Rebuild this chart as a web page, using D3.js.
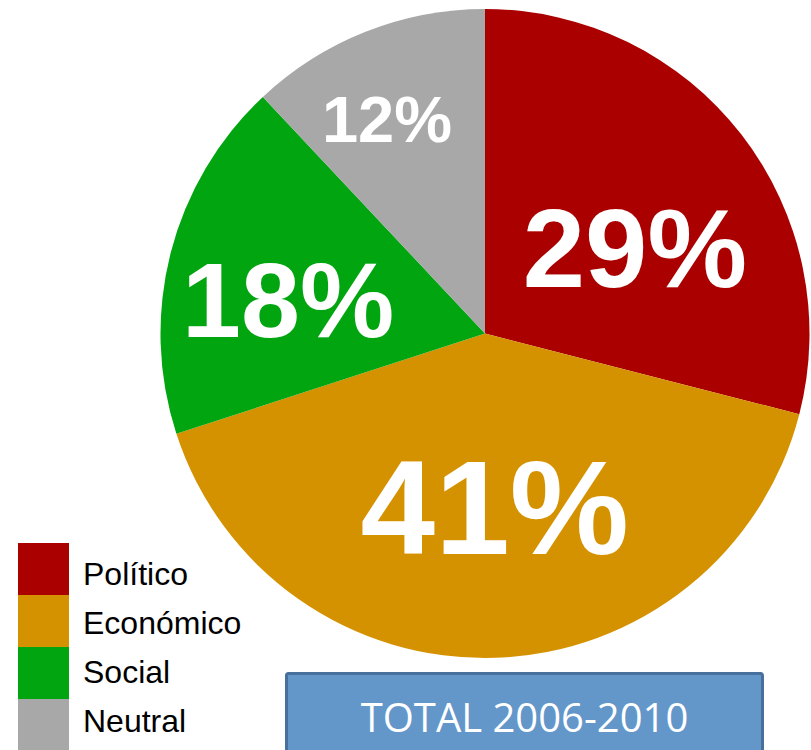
<!DOCTYPE html>
<html>
<head>
<meta charset="utf-8">
<script src="https://cdn.jsdelivr.net/npm/d3@7"></script>
<style>
  body { margin: 0; background: #fff; }
  svg { display: block; }
</style>
</head>
<body>
<svg id="chart" width="811" height="750"></svg>
<script>
// data
const categories = ["Político", "Económico", "Social", "Neutral"];
const values = [29, 41, 18, 12];
const titleText = "TOTAL 2006-2010";

// svg base setup
const svg = d3.select("#chart");
const width = 811;
const height = 750;
const cx = 485, cy = 333.5, radius = 324.5;

const color = d3.scaleOrdinal()
  .domain(categories)
  .range(["#AA0000", "#D59200", "#00A50F", "#A8A8A8"]);

// label look per slice (size + nudge from the centroid)
const labelStyle = {
  "Político":  { size: 112, k: 0.53, dx: 14, dy: 20 },
  "Económico": { size: 134, k: 0.56, dx: 4, dy: -8 },
  "Social":    { size: 106, k: 0.62, dx: -2, dy: 17 },
  "Neutral":   { size: 65,  k: 0.72, dx: -12, dy: 3 }
};

const pieData = categories.map((c, i) => ({ cat: c, value: values[i] }));
const pie = d3.pie().sort(null).value(d => d.value);
const arcs = pie(pieData);

const arc = d3.arc().innerRadius(0).outerRadius(radius);

const g = svg.append("g").attr("transform", `translate(${cx},${cy})`);

g.selectAll("path")
  .data(arcs)
  .join("path")
  .attr("d", arc)
  .attr("fill", d => color(d.data.cat));

// percentage labels
g.selectAll("text.pct")
  .data(arcs)
  .join("text")
  .attr("class", "pct")
  .each(function (d) {
    const s = labelStyle[d.data.cat];
    const la = d3.arc().innerRadius(radius * s.k).outerRadius(radius * s.k);
    const [x, y] = la.centroid(d);
    d3.select(this)
      .attr("x", x + s.dx)
      .attr("y", y + s.dy)
      .attr("font-size", s.size);
  })
  .attr("text-anchor", "middle")
  .attr("dominant-baseline", "central")
  .attr("font-family", "Liberation Sans, Arial, sans-serif")
  .attr("font-weight", "bold")
  .attr("fill", "#fff")
  .text(d => d.data.value + "%");

// legend
const legend = svg.append("g").attr("transform", "translate(18,543)");
const rowH = 52;
const textStep = 49;
categories.forEach((cat, i) => {
  legend.append("rect")
    .attr("y", i * rowH)
    .attr("width", 51).attr("height", rowH)
    .attr("fill", color(cat));
  legend.append("text")
    .attr("x", 65).attr("y", 42 + i * textStep)
    .attr("font-family", "Liberation Sans, Arial, sans-serif")
    .attr("font-size", 32)
    .attr("fill", "#000")
    .text(cat);
});

// title box
const box = svg.append("g");
box.append("rect")
  .attr("x", 286.5).attr("y", 673.5)
  .attr("width", 476).attr("height", 90)
  .attr("rx", 2)
  .attr("fill", "#6396C9")
  .attr("stroke", "#48709C")
  .attr("stroke-width", 3);
box.append("text")
  .attr("x", 524.5).attr("y", 732)
  .attr("text-anchor", "middle")
  .attr("font-family", "Open Sans, sans-serif")
  .attr("font-size", 40)
  .attr("fill", "#fff")
  .text(titleText);
</script>
</body>
</html>
